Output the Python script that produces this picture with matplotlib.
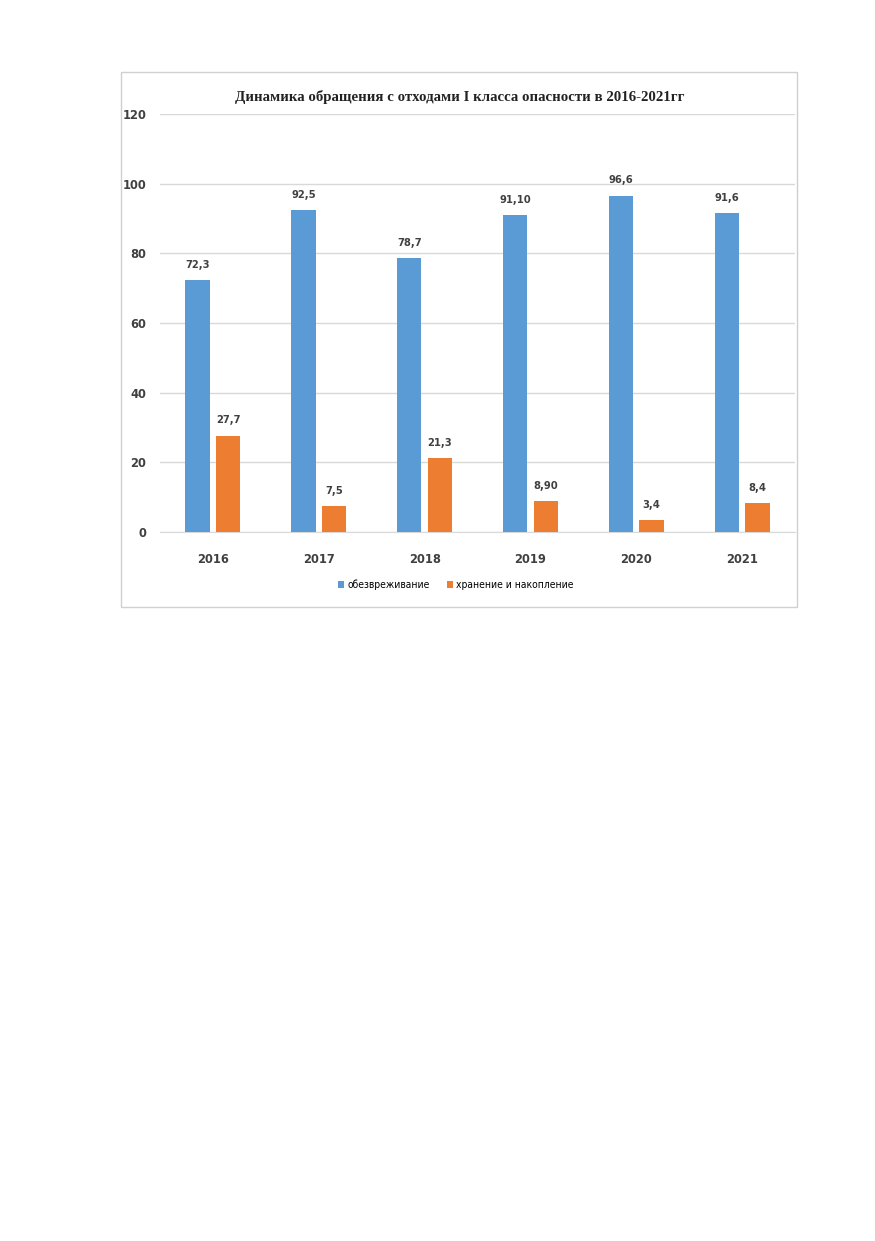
import matplotlib.pyplot as plt
import numpy as np
from matplotlib.patches import Rectangle
from matplotlib import font_manager
from matplotlib.font_manager import FontProperties

years = ['2016', '2017', '2018', '2019', '2020', '2021']
neutral = [72.3, 92.5, 78.7, 91.10, 96.6, 91.6]
storage = [27.7, 7.5, 21.3, 8.90, 3.4, 8.4]
neutral_lbl = ['72,3', '92,5', '78,7', '91,10', '96,6', '91,6']
storage_lbl = ['27,7', '7,5', '21,3', '8,90', '3,4', '8,4']
yticks = [0, 20, 40, 60, 80, 100, 120]

blue = '#5b9bd5'
orange = '#ed7d31'

# pick DejaVu condensed faces by file so the stretch is always honoured
def cond_font(bold, size):
    for f in font_manager.fontManager.ttflist:
        if f.name == 'DejaVu Sans' and f.stretch == 'condensed' and f.style == 'normal':
            if (f.weight in (700, 'bold')) == bold:
                return FontProperties(fname=f.fname, size=size)
    return FontProperties(family='DejaVu Sans', weight='bold' if bold else 'normal', size=size)

fig = plt.figure(figsize=(8.75, 12.41), dpi=100)
# frame around the chart
fig.patches.append(Rectangle((121/875, 1-607/1241), (797-121)/875, (607-72)/1241,
                             transform=fig.transFigure, fill=False, edgecolor='#d0d0d0', lw=1))

ax = fig.add_axes([160/875, 1-532/1241, 635/875, (532-114)/1241])
x = np.arange(len(years))
w = 0.23
off = 0.145
b1 = ax.bar(x - off, neutral, w, color=blue, label='обезвреживание', zorder=3)
b2 = ax.bar(x + off, storage, w, color=orange, label='хранение и накопление', zorder=3)
lbl_font = cond_font(True, 8)
for bars, labels in [(b1, neutral_lbl), (b2, storage_lbl)]:
    for rect, t in zip(bars, labels):
        ax.text(rect.get_x() + rect.get_width()/2, rect.get_height() + 2.9, t, ha='center', va='bottom',
                fontproperties=lbl_font, color='#404040')

ax.set_xlim(-0.5, len(years) - 0.5)
ax.set_ylim(0, 120)
ax.set_yticks(yticks)
ax.set_yticklabels([str(v) for v in yticks])
ax.set_xticks(x)
ax.set_xticklabels(years)
ax.tick_params(axis='both', length=0, colors='#404040')
ax.tick_params(axis='y', pad=10)
ax.tick_params(axis='x', pad=15)
tick_font = cond_font(True, 9.2)
for lbl in ax.get_xticklabels() + ax.get_yticklabels():
    lbl.set_fontproperties(tick_font)
ax.grid(axis='y', color='#d9d9d9', lw=1, zorder=0)
for s in ['top', 'right', 'left']:
    ax.spines[s].set_visible(False)
ax.spines['bottom'].set_color('#d9d9d9')

fig.text(460/875, 1-97/1241, 'Динамика обращения с отходами I класса опасности в 2016-2021гг',
         ha='center', va='center', fontsize=10.7, family='Liberation Serif', fontweight='bold', color='#222222')

leg = fig.legend(loc='center', bbox_to_anchor=(456/875, 1-585/1241), ncol=2, frameon=False,
                 prop=cond_font(False, 7.4), handlelength=0.6, handleheight=0.6,
                 columnspacing=1.7, handletextpad=0.3)

fig.savefig('out.png', dpi=100)
